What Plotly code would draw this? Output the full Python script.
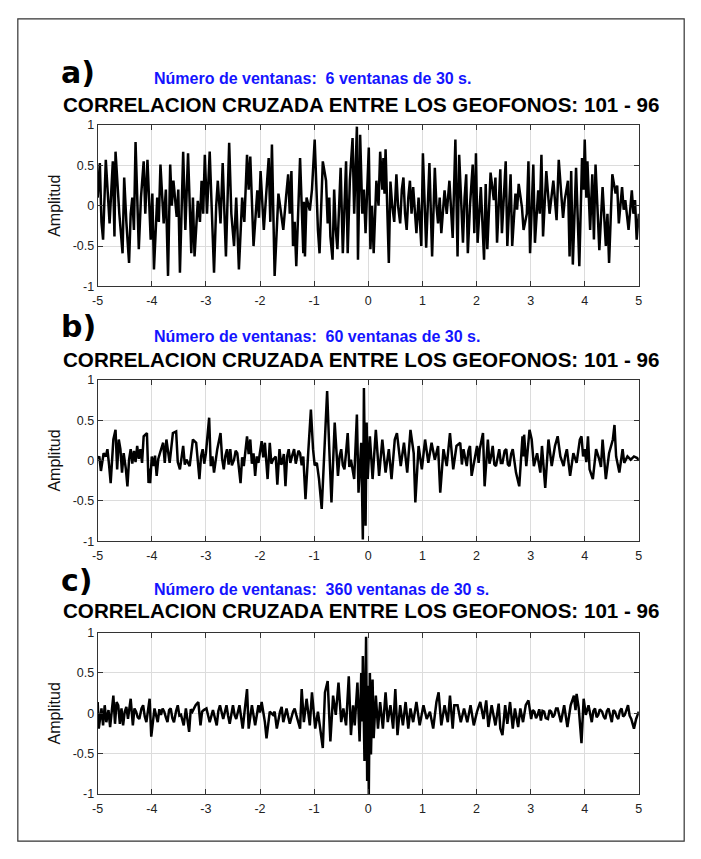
import plotly.graph_objects as go

# ---------------- data ----------------
A_T = [-5.00, -4.96, -4.93, -4.90, -4.85, -4.81, -4.78, -4.72, -4.69, -4.67, -4.63, -4.60, -4.54, -4.51, -4.47, -4.42,
       -4.39, -4.36, -4.33, -4.30, -4.24, -4.20, -4.15, -4.12, -4.08, -4.02, -3.99, -3.96, -3.90, -3.87, -3.84, -3.78,
       -3.74, -3.70, -3.66, -3.63, -3.60, -3.54, -3.51, -3.48, -3.42, -3.38, -3.33, -3.27, -3.24, -3.21, -3.15, -3.11,
       -3.08, -3.05, -3.02, -2.98, -2.93, -2.89, -2.85, -2.81, -2.78, -2.73, -2.69, -2.63, -2.57, -2.53, -2.48, -2.44,
       -2.39, -2.33, -2.29, -2.24, -2.21, -2.18, -2.12, -2.05, -2.02, -1.99, -1.93, -1.89, -1.84, -1.81, -1.78, -1.73,
       -1.66, -1.61, -1.57, -1.52, -1.48, -1.45, -1.42, -1.39, -1.36, -1.33, -1.26, -1.20, -1.19, -1.17, -1.14, -1.08,
       -1.04, -0.99, -0.93, -0.90, -0.84, -0.78, -0.75, -0.72, -0.70, -0.66, -0.63, -0.60, -0.57, -0.51, -0.47, -0.41,
       -0.38, -0.34, -0.29, -0.26, -0.21, -0.19, -0.15, -0.11, -0.08, -0.05, 0.01, 0.04, 0.07, 0.10, 0.15, 0.19,
       0.22, 0.26, 0.28, 0.30, 0.32, 0.38, 0.41, 0.44, 0.48, 0.52, 0.55, 0.59, 0.62, 0.65, 0.68, 0.71,
       0.74, 0.77, 0.80, 0.83, 0.89, 0.93, 0.98, 1.01, 1.07, 1.13, 1.18, 1.23, 1.26, 1.29, 1.32, 1.35,
       1.41, 1.45, 1.50, 1.56, 1.61, 1.65, 1.68, 1.75, 1.78, 1.81, 1.84, 1.88, 1.93, 1.96, 1.99, 2.02,
       2.08, 2.14, 2.17, 2.20, 2.26, 2.32, 2.35, 2.38, 2.44, 2.47, 2.51, 2.54, 2.57, 2.63, 2.66, 2.72,
       2.75, 2.78, 2.84, 2.87, 2.93, 2.96, 2.99, 3.05, 3.08, 3.14, 3.17, 3.20, 3.23, 3.29, 3.35, 3.42,
       3.48, 3.52, 3.57, 3.60, 3.63, 3.69, 3.72, 3.75, 3.78, 3.84, 3.90, 3.95, 3.98, 4.00, 4.03, 4.05,
       4.10, 4.14, 4.17, 4.20, 4.27, 4.33, 4.39, 4.42, 4.45, 4.51, 4.57, 4.60, 4.63, 4.69, 4.72, 4.75,
       4.81, 4.87, 4.90, 4.93, 4.96, 5.00]
A_AMP = [0.10, 0.53, -0.20, -0.42, 0.57, 0.10, -0.22, 0.55, -0.38, 0.67, 0.20, -0.10, -0.59, 0.35, -0.20, -0.71,
         -0.10, 0.10, -0.30, 0.79, -0.54, 0.10, 0.55, -0.10, 0.57, -0.42, 0.15, -0.79, 0.10, -0.20, 0.51, -0.22,
         0.20, -0.87, 0.51, 0.00, 0.31, -0.14, 0.20, -0.83, 0.67, -0.30, 0.65, -0.59, 0.10, -0.63, 0.06, -0.20,
         0.31, -0.10, 0.63, -0.10, 0.67, -0.20, -0.83, 0.00, 0.31, -0.22, 0.53, -0.63, 0.78, -0.10, -0.50, 0.10,
         -0.79, 0.10, -0.20, 0.63, 0.20, 0.61, -0.50, 0.19, -0.15, 0.43, -0.30, 0.10, 0.59, -0.20, 0.76, -0.87,
         0.15, -0.10, -0.30, 0.10, 0.39, -0.10, 0.43, -0.50, -0.20, -0.75, 0.59, -0.59, 0.05, -0.63, 0.10, -0.06,
         0.20, 0.82, -0.30, -0.59, 0.55, 0.31, -0.22, 0.10, -0.38, -0.67, 0.20, -0.30, -0.54, 0.47, -0.59, 0.55,
         -0.59, 0.31, 0.84, -0.10, 0.98, -0.67, 0.88, -0.10, 0.20, -0.34, 0.72, -0.54, 0.00, -0.59, 0.31, 0.00,
         0.67, 0.20, 0.59, 0.15, 0.70, -0.71, 0.30, 0.02, -0.20, 0.39, 0.00, -0.22, 0.20, 0.35, -0.10, -0.30,
         0.10, 0.31, -0.10, 0.23, -0.34, 0.10, -0.50, 0.65, -0.52, 0.53, -0.63, 0.47, 0.00, -0.22, 0.10, -0.34,
         0.19, -0.10, 0.31, -0.40, 0.82, -0.63, 0.63, -0.46, 0.10, 0.39, -0.59, 0.00, 0.51, -0.34, 0.65, -0.46,
         0.23, -0.67, 0.27, -0.54, 0.41, 0.07, 0.35, -0.46, 0.45, -0.34, 0.10, 0.55, -0.50, 0.39, -0.50, 0.15,
         -0.05, 0.27, -0.02, -0.30, -0.10, 0.55, -0.59, 0.51, -0.46, 0.19, -0.10, 0.63, -0.38, 0.43, -0.10, 0.31,
         -0.18, 0.57, 0.11, -0.15, 0.07, 0.31, -0.63, 0.43, -0.73, 0.47, -0.75, 0.59, 0.20, 0.82, 0.10, 0.55,
         -0.30, 0.39, -0.42, 0.51, -0.55, 0.23, -0.50, -0.10, -0.71, 0.39, 0.15, 0.25, -0.22, 0.23, -0.05, 0.07,
         -0.30, 0.19, -0.10, 0.07, -0.42, -0.10]

B_T = [-5.00, -4.97, -4.94, -4.89, -4.85, -4.82, -4.79, -4.76, -4.71, -4.67, -4.64, -4.61, -4.58, -4.55, -4.52, -4.48,
       -4.45, -4.42, -4.39, -4.36, -4.33, -4.30, -4.27, -4.24, -4.21, -4.18, -4.15, -4.09, -4.06, -4.04, -4.03, -4.00,
       -3.97, -3.94, -3.91, -3.88, -3.85, -3.79, -3.76, -3.73, -3.67, -3.64, -3.61, -3.55, -3.52, -3.48, -3.42, -3.39,
       -3.36, -3.30, -3.27, -3.24, -3.18, -3.15, -3.12, -3.09, -3.06, -3.03, -3.00, -2.94, -2.91, -2.88, -2.85, -2.79,
       -2.73, -2.70, -2.67, -2.64, -2.61, -2.58, -2.55, -2.52, -2.48, -2.45, -2.42, -2.36, -2.33, -2.30, -2.24, -2.21,
       -2.18, -2.15, -2.12, -2.09, -2.06, -2.03, -1.97, -1.94, -1.91, -1.86, -1.82, -1.79, -1.76, -1.71, -1.68, -1.64,
       -1.61, -1.59, -1.56, -1.53, -1.50, -1.47, -1.44, -1.41, -1.37, -1.34, -1.32, -1.29, -1.26, -1.23, -1.20, -1.16,
       -1.11, -1.06, -1.02, -0.99, -0.95, -0.91, -0.86, -0.81, -0.76, -0.72, -0.68, -0.62, -0.56, -0.53, -0.50, -0.47,
       -0.44, -0.41, -0.38, -0.35, -0.32, -0.26, -0.21, -0.18, -0.13, -0.10, -0.08, -0.05, -0.03, -0.01, 0.03, 0.08,
       0.14, 0.20, 0.26, 0.32, 0.38, 0.43, 0.49, 0.53, 0.60, 0.66, 0.72, 0.78, 0.84, 0.87, 0.93, 0.99,
       1.05, 1.11, 1.17, 1.23, 1.29, 1.33, 1.39, 1.45, 1.51, 1.57, 1.63, 1.70, 1.73, 1.76, 1.82, 1.85,
       1.88, 1.91, 1.97, 2.01, 2.04, 2.06, 2.12, 2.15, 2.21, 2.24, 2.27, 2.30, 2.33, 2.36, 2.42, 2.45,
       2.48, 2.52, 2.55, 2.58, 2.61, 2.64, 2.67, 2.73, 2.79, 2.85, 2.87, 2.88, 2.92, 2.98, 3.02, 3.06,
       3.12, 3.15, 3.18, 3.21, 3.27, 3.33, 3.39, 3.45, 3.50, 3.55, 3.61, 3.64, 3.67, 3.73, 3.79, 3.85,
       3.91, 3.94, 3.97, 4.00, 4.03, 4.06, 4.09, 4.15, 4.21, 4.27, 4.30, 4.33, 4.39, 4.45, 4.52, 4.55,
       4.58, 4.64, 4.70, 4.73, 4.79, 4.85, 4.91, 4.97, 5.00]
B_AMP = [0.02, 0.05, -0.13, 0.09, 0.05, 0.14, -0.05, -0.28, 0.26, 0.38, -0.11, 0.26, 0.14, -0.15, 0.09, -0.10,
         -0.32, 0.01, 0.14, -0.04, 0.12, -0.02, 0.18, 0.02, 0.14, -0.03, 0.30, 0.34, -0.28, -0.10, -0.28, 0.05,
         -0.07, 0.06, -0.19, 0.02, 0.09, 0.22, -0.03, 0.26, -0.03, 0.15, 0.34, 0.36, -0.02, -0.11, 0.18, -0.05,
         0.01, -0.07, 0.10, 0.26, 0.22, -0.02, -0.23, 0.05, 0.14, -0.04, 0.09, 0.53, -0.07, 0.05, -0.15, 0.14,
         0.34, 0.02, -0.11, 0.06, 0.14, -0.05, 0.14, -0.06, 0.01, 0.12, 0.09, -0.28, 0.04, -0.07, 0.30, 0.08,
         0.26, -0.04, 0.09, -0.19, 0.05, -0.03, 0.24, 0.04, 0.22, -0.23, 0.22, -0.04, 0.01, 0.05, -0.30, 0.14,
         -0.05, -0.03, 0.08, -0.32, 0.05, 0.14, -0.03, 0.05, 0.14, -0.04, 0.01, 0.12, 0.09, -0.06, 0.05, -0.48,
         0.09, 0.63, 0.14, -0.06, -0.03, -0.23, -0.60, 0.14, 0.86, 0.14, -0.52, 0.47, -0.19, 0.05, 0.14, -0.06,
         -0.11, 0.10, 0.34, -0.08, 0.01, -0.23, 0.57, -0.40, 0.22, -0.98, 0.90, -0.81, 0.47, -0.23, 0.30, -0.23,
         0.38, -0.19, 0.26, -0.15, 0.14, -0.23, 0.26, 0.34, -0.07, 0.22, -0.15, 0.38, 0.09, -0.52, 0.18, -0.11,
         0.26, -0.03, 0.22, 0.01, 0.18, -0.40, 0.14, -0.07, 0.34, -0.11, 0.18, 0.22, -0.05, 0.14, -0.07, 0.12,
         0.18, -0.19, 0.05, 0.18, -0.03, 0.14, 0.34, -0.32, 0.26, -0.04, 0.05, 0.18, -0.05, -0.07, 0.14, -0.03,
         -0.03, 0.12, 0.14, -0.05, -0.07, 0.08, 0.14, -0.15, -0.32, 0.30, 0.05, 0.32, -0.07, 0.38, 0.26, -0.07,
         0.09, -0.05, -0.15, 0.18, -0.34, 0.26, -0.07, 0.18, 0.30, 0.05, -0.07, 0.06, 0.14, -0.19, 0.09, -0.03,
         0.26, 0.30, 0.05, 0.14, -0.02, 0.30, -0.11, -0.23, 0.14, 0.01, -0.08, 0.26, -0.23, 0.09, 0.26, 0.44,
         0.05, -0.15, 0.14, -0.03, 0.05, 0.01, 0.05, 0.03, 0.00]

C_T = [-5.00, -4.98, -4.93, -4.90, -4.87, -4.84, -4.80, -4.77, -4.71, -4.68, -4.65, -4.62, -4.59, -4.56, -4.53, -4.50,
       -4.47, -4.44, -4.39, -4.35, -4.32, -4.29, -4.26, -4.23, -4.19, -4.16, -4.13, -4.10, -4.04, -4.01, -3.95, -3.92,
       -3.89, -3.86, -3.83, -3.80, -3.77, -3.74, -3.71, -3.68, -3.65, -3.62, -3.59, -3.55, -3.52, -3.49, -3.46, -3.41,
       -3.37, -3.31, -3.28, -3.25, -3.19, -3.14, -3.10, -3.07, -3.04, -2.99, -2.96, -2.93, -2.87, -2.80, -2.77, -2.74,
       -2.68, -2.62, -2.59, -2.56, -2.50, -2.47, -2.44, -2.38, -2.32, -2.27, -2.24, -2.21, -2.15, -2.09, -2.03, -2.00,
       -1.97, -1.91, -1.88, -1.82, -1.76, -1.73, -1.69, -1.63, -1.60, -1.57, -1.51, -1.48, -1.45, -1.39, -1.36, -1.33,
       -1.26, -1.23, -1.19, -1.14, -1.08, -1.04, -0.98, -0.93, -0.88, -0.84, -0.80, -0.75, -0.70, -0.65, -0.60, -0.55,
       -0.50, -0.46, -0.41, -0.36, -0.32, -0.28, -0.25, -0.20, -0.16, -0.13, -0.11, -0.10, -0.07, -0.04, -0.02, -0.01,
       0.01, 0.03, 0.05, 0.08, 0.10, 0.14, 0.18, 0.22, 0.27, 0.32, 0.36, 0.41, 0.46, 0.50, 0.54, 0.59,
       0.64, 0.69, 0.74, 0.78, 0.83, 0.89, 0.95, 1.02, 1.08, 1.14, 1.20, 1.26, 1.30, 1.35, 1.41, 1.47,
       1.51, 1.56, 1.59, 1.65, 1.71, 1.77, 1.83, 1.89, 1.95, 2.01, 2.07, 2.13, 2.18, 2.22, 2.28, 2.35,
       2.41, 2.44, 2.48, 2.53, 2.57, 2.62, 2.67, 2.71, 2.77, 2.81, 2.86, 2.91, 2.96, 3.01, 3.04, 3.07,
       3.10, 3.13, 3.16, 3.19, 3.22, 3.25, 3.28, 3.32, 3.35, 3.38, 3.41, 3.44, 3.47, 3.50, 3.56, 3.62,
       3.68, 3.74, 3.80, 3.83, 3.85, 3.89, 3.94, 3.98, 4.02, 4.07, 4.13, 4.16, 4.19, 4.22, 4.25, 4.28,
       4.32, 4.35, 4.38, 4.41, 4.44, 4.47, 4.50, 4.53, 4.56, 4.59, 4.62, 4.65, 4.68, 4.71, 4.74, 4.77,
       4.80, 4.83, 4.86, 4.91, 4.95, 5.00]
C_AMP = [0.14, -0.19, 0.06, -0.15, 0.10, -0.11, 0.04, -0.17, 0.22, -0.13, 0.14, 0.10, -0.13, 0.06, -0.15, 0.02,
         0.08, -0.07, 0.18, -0.15, 0.06, 0.02, -0.05, -0.07, 0.06, 0.10, -0.04, -0.11, 0.18, -0.29, 0.06, -0.04,
         -0.11, 0.05, -0.02, 0.06, 0.02, -0.05, -0.11, 0.04, 0.06, -0.06, -0.11, 0.03, 0.10, -0.03, -0.02, -0.15,
         0.06, -0.23, 0.05, 0.02, 0.10, 0.14, -0.15, 0.02, 0.04, 0.06, -0.03, -0.11, 0.04, -0.15, 0.03, 0.10,
         -0.07, 0.10, -0.03, -0.13, 0.10, -0.02, -0.07, 0.10, -0.19, 0.18, 0.30, -0.19, 0.10, -0.15, 0.10, 0.01,
         0.14, -0.11, -0.31, 0.02, -0.02, 0.02, -0.19, 0.02, 0.08, -0.11, 0.06, -0.04, -0.13, 0.02, 0.06, -0.02,
         -0.19, 0.30, -0.11, 0.18, -0.15, 0.26, -0.19, 0.02, -0.27, -0.43, 0.26, 0.40, -0.35, 0.22, -0.02, 0.38,
         -0.11, 0.06, -0.15, 0.46, -0.27, 0.10, -0.15, 0.38, -0.35, 0.50, -0.10, 0.71, -0.59, 0.95, -0.84, 0.34,
         -1.00, 0.50, -0.51, 0.42, -0.31, 0.22, -0.19, 0.14, -0.19, 0.26, -0.11, 0.10, -0.19, 0.30, -0.27, 0.10,
         -0.15, 0.14, -0.19, 0.06, -0.11, 0.14, -0.15, 0.10, -0.07, 0.02, -0.19, 0.14, 0.26, -0.15, 0.10, -0.11,
         0.22, -0.19, 0.10, 0.10, -0.11, 0.06, -0.11, 0.10, -0.15, 0.02, 0.14, -0.07, 0.16, -0.17, 0.10, -0.15,
         0.12, -0.19, -0.27, 0.10, -0.13, 0.14, -0.19, 0.06, -0.17, 0.06, -0.11, 0.10, 0.16, -0.07, 0.04, 0.02,
         -0.06, -0.02, 0.05, -0.09, 0.03, 0.02, -0.06, -0.07, 0.04, 0.02, -0.05, -0.02, 0.06, 0.06, -0.11, 0.10,
         -0.17, 0.10, 0.22, 0.04, 0.24, 0.06, -0.37, 0.18, -0.02, 0.10, -0.11, 0.03, 0.06, -0.05, -0.02, 0.05,
         0.02, -0.04, -0.07, 0.03, 0.06, -0.05, -0.11, 0.04, 0.02, -0.04, -0.07, 0.03, 0.06, -0.04, -0.02, 0.04,
         0.10, -0.03, -0.07, -0.19, -0.07, 0.02]

X_TICKS = [-5, -4, -3, -2, -1, 0, 1, 2, 3, 4, 5]
Y_TICKS = [-1, -0.5, 0, 0.5, 1]
Y_TICK_TEXT = ["-1", "-0.5", "0", "0.5", "1"]
LETTERS = ["a)", "b)", "c)"]
SUBTITLES = ["Número de ventanas:  6 ventanas de 30 s.",
             "Número de ventanas:  60 ventanas de 30 s.",
             "Número de ventanas:  360 ventanas de 30 s."]
TITLE = "CORRELACION CRUZADA ENTRE LOS GEOFONOS: 101 - 96"
Y_LABEL = "Amplitud"

# ---------------- layout helpers (pixel geometry) ----------------
W, H = 701, 859
def px(x):
    return x / W
def py(y):
    return 1 - y / H

PLOT_X = (93, 642)
PLOT_Y = [(120, 284), (379, 543), (636, 800)]   # top, bottom in pixels
LETTER_Y = [67, 325, 583]
SUB_Y = [73, 335, 592]
TITLE_Y = [99, 358, 614]

SANS = "Liberation Sans Narrow, Arial Narrow, Liberation Sans, Arial, sans-serif"

fig = go.Figure()
series = [(A_T, A_AMP), (B_T, B_AMP), (C_T, C_AMP)]
layout = dict(
    width=W, height=H,
    margin=dict(l=0, r=0, t=0, b=0),
    paper_bgcolor="white", plot_bgcolor="white",
    showlegend=False,
)
annotations = []
for i, (t, amp) in enumerate(series):
    suffix = "" if i == 0 else str(i + 1)
    fig.add_trace(go.Scatter(x=t, y=amp, mode="lines",
                             line=dict(color="black", width=2.5),
                             xaxis="x" + suffix, yaxis="y" + suffix,
                             hoverinfo="skip"))
    top, bot = PLOT_Y[i]
    axis_common = dict(showline=True, linecolor="#333333", linewidth=1, mirror="ticks",
                       ticks="inside", ticklen=5, tickcolor="#333333",
                       showgrid=True, gridcolor="#dcdcdc", gridwidth=1,
                       zeroline=False,
                       tickfont=dict(family=SANS, size=12.5, color="#222222"))
    layout["xaxis" + suffix] = dict(axis_common, domain=[px(PLOT_X[0]), px(PLOT_X[1])],
                                    range=[-5, 5], tickvals=X_TICKS,
                                    ticktext=[str(v) for v in X_TICKS],
                                    anchor="y" + suffix, ticklabelstandoff=3)
    layout["yaxis" + suffix] = dict(axis_common, domain=[py(bot), py(top)],
                                    range=[-1, 1], tickvals=Y_TICKS, ticktext=Y_TICK_TEXT,
                                    anchor="x" + suffix,
                                    title=dict(text=Y_LABEL, standoff=8,
                                               font=dict(family="Liberation Sans, Arial, sans-serif",
                                                         size=16, color="#111111")))
    annotations.append(dict(text="<b>" + LETTERS[i] + "</b>", x=px(54), y=py(LETTER_Y[i]),
                            xref="paper", yref="paper", xanchor="left", yanchor="middle",
                            showarrow=False,
                            font=dict(family="DejaVu Sans, Liberation Sans, sans-serif", size=30,
                                      color="black")))
    annotations.append(dict(text="<b>" + SUBTITLES[i] + "</b>", x=px(148), y=py(SUB_Y[i]),
                            xref="paper", yref="paper", xanchor="left", yanchor="middle",
                            showarrow=False,
                            font=dict(family=SANS, size=16, color="#1414ff")))
    annotations.append(dict(text="<b>" + TITLE + "</b>", x=px(361), y=py(TITLE_Y[i]),
                            xref="paper", yref="paper", xanchor="center", yanchor="middle",
                            showarrow=False,
                            font=dict(family=SANS, size=20.6, color="black")))
layout["annotations"] = annotations
layout["shapes"] = [dict(type="rect", xref="paper", yref="paper",
                         x0=px(12), x1=px(688), y0=py(848), y1=py(12),
                         line=dict(color="#333333", width=1.2), fillcolor="rgba(0,0,0,0)")]
fig.update_layout(**layout)
fig.write_html("out.html")
